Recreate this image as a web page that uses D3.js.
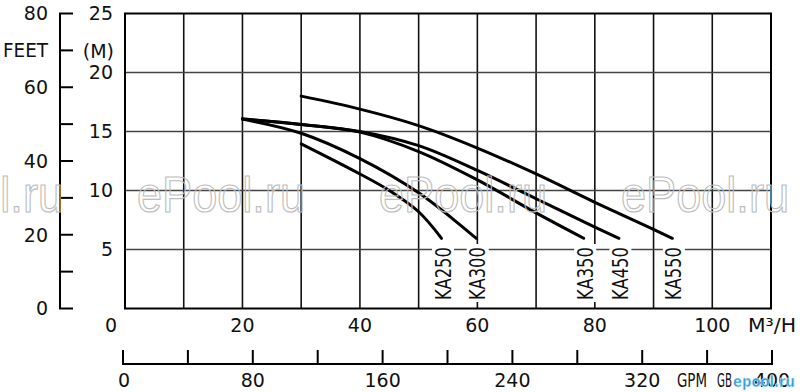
<!DOCTYPE html>
<html>
<head>
<meta charset="utf-8">
<script src="https://cdn.jsdelivr.net/npm/d3@7"></script>
<style>
    body { margin: 0; background: #fff; }
    text { font-family: "DejaVu Sans", sans-serif; fill: #111; }
</style>
</head>
<body>
<svg id="chart" width="800" height="392"></svg>
<script>
// pump curves, flow in m3/h vs head in m
const models = ['KA250', 'KA300', 'KA350', 'KA450', 'KA550']
const ka250Flow = [30, 40, 45, 50, 53.9]
const ka250Head = [13.95, 11.4, 10.0, 8.2, 5.95]
const ka300Flow = [20, 30, 40, 50, 59.8]
const ka300Head = [16.05, 14.85, 12.7, 9.8, 5.95]
const ka350Flow = [20, 30, 40, 50, 60, 70, 78.1]
const ka350Head = [16.05, 15.6, 14.95, 13.3, 10.9, 8.1, 5.95]
const ka450Flow = [20, 30, 40, 50, 60, 70, 80, 84.1]
const ka450Head = [16.05, 15.6, 15.0, 13.8, 11.7, 9.3, 6.9, 5.95]
const ka550Flow = [30, 40, 50, 60, 70, 80, 90, 93.2]
const ka550Head = [18.0, 16.9, 15.5, 13.6, 11.4, 9.0, 6.7, 5.95]

// axis ticks
const flowTicks = [0, 20, 40, 60, 80, 100]
const flowGrid = [10, 20, 30, 40, 50, 60, 70, 80, 90, 100]
const headTicks = [5, 10, 15, 20, 25]
const headGrid = [5, 10, 15, 20]
const feetTicks = [0, 10, 20, 30, 40, 50, 60, 70, 80]
const feetLabels = [0, 20, 40, 60, 80]
const gpmTicks = [0, 40, 80, 120, 160, 200, 240, 280, 320, 360, 400]
const gpmLabels = [0, 80, 160, 240, 320, 400]

const series = [
    { name: models[0], flow: ka250Flow, head: ka250Head },
    { name: models[1], flow: ka300Flow, head: ka300Head },
    { name: models[2], flow: ka350Flow, head: ka350Head },
    { name: models[3], flow: ka450Flow, head: ka450Head },
    { name: models[4], flow: ka550Flow, head: ka550Head },
]

const svg = d3.select('#chart')

const x = d3.scaleLinear().domain([0, 110]).range([125, 771])
const y = d3.scaleLinear().domain([0, 25]).range([308.5, 13.5])
const feet = d3.scaleLinear().domain([0, 80]).range([308.5, 13.5])
const gpm = d3.scaleLinear().domain([0, 400]).range([123, 772])

// grid
const grid = svg.append('g')
grid.selectAll('.vgrid')
    .data(flowGrid)
    .enter().append('line')
    .attr('x1', d => x(d)).attr('x2', d => x(d))
    .attr('y1', y(25)).attr('y2', y(0))
    .attr('stroke', '#111').attr('stroke-width', 1.6)

grid.selectAll('.hgrid')
    .data(headGrid)
    .enter().append('line')
    .attr('x1', x(0)).attr('x2', x(110))
    .attr('y1', d => y(d)).attr('y2', d => y(d))
    .attr('stroke', '#444').attr('stroke-width', 1.6)

// curves
const line = d3.line()
    .x(d => x(d[0]))
    .y(d => y(d[1]))
    .curve(d3.curveCatmullRom.alpha(0.5))

svg.append('g').selectAll('path')
    .data(series)
    .enter().append('path')
    .attr('d', s => line(s.flow.map((f, i) => [f, s.head[i]])))
    .attr('fill', 'none')
    .attr('stroke', '#000')
    .attr('stroke-width', 3)
    .attr('stroke-linecap', 'round')

// model labels under curve ends, white box cuts the grid
const labels = svg.append('g')
series.forEach(s => {
    let cx = x(s.flow[s.flow.length - 1]) + 1.5
    labels.append('rect')
        .attr('x', cx - 11).attr('y', 244)
        .attr('width', 22).attr('height', 58)
        .attr('fill', '#fff')
    labels.append('text')
        .attr('transform', 'translate(' + (cx + 7.5) + ',300) rotate(-90)')
        .attr('textLength', 53)
        .attr('lengthAdjust', 'spacingAndGlyphs')
        .style('font-size', '21px')
        .text(s.name)
})

// frame
svg.append('rect')
    .attr('x', x(0)).attr('y', y(25))
    .attr('width', x(110) - x(0)).attr('height', y(0) - y(25))
    .attr('fill', 'none').attr('stroke', '#000').attr('stroke-width', 2)

// head in metres
svg.append('g').selectAll('text')
    .data(headTicks)
    .enter().append('text')
    .attr('x', 113).attr('y', d => y(d))
    .attr('dy', '0.36em')
    .attr('text-anchor', 'end')
    .style('font-size', '19px')
    .text(d => d)
svg.append('text')
    .attr('x', 114).attr('y', 51).attr('dy', '0.36em')
    .attr('text-anchor', 'end')
    .style('font-size', '19px')
    .text('(M)')

// head in feet
const feetG = svg.append('g')
feetG.append('line')
    .attr('x1', 60).attr('x2', 60)
    .attr('y1', feet(80)).attr('y2', feet(0))
    .attr('stroke', '#000').attr('stroke-width', 2)
feetG.selectAll('.tick')
    .data(feetTicks)
    .enter().append('line')
    .attr('x1', 59).attr('x2', 73)
    .attr('y1', d => feet(d)).attr('y2', d => feet(d))
    .attr('stroke', '#000').attr('stroke-width', 2)
feetG.selectAll('text')
    .data(feetLabels)
    .enter().append('text')
    .attr('x', 48).attr('y', d => feet(d))
    .attr('dy', '0.36em')
    .attr('text-anchor', 'end')
    .style('font-size', '19px')
    .text(d => d)
feetG.append('text')
    .attr('x', 3).attr('y', feet(70)).attr('dy', '0.36em')
    .attr('textLength', 45)
    .attr('lengthAdjust', 'spacingAndGlyphs')
    .style('font-size', '19px')
    .text('FEET')

// flow in m3/h
svg.append('g').selectAll('text')
    .data(flowTicks)
    .enter().append('text')
    .attr('x', d => x(d) - (d === 0 ? 14 : 0))
    .attr('y', 332)
    .attr('text-anchor', 'middle')
    .style('font-size', '19px')
    .text(d => d)
svg.append('text')
    .attr('x', 748).attr('y', 332)
    .attr('textLength', 48)
    .attr('lengthAdjust', 'spacingAndGlyphs')
    .style('font-size', '19px')
    .text('M³/H')

// flow in gpm
const gpmG = svg.append('g')
gpmG.append('line')
    .attr('x1', gpm(0)).attr('x2', gpm(400))
    .attr('y1', 364).attr('y2', 364)
    .attr('stroke', '#000').attr('stroke-width', 2)
gpmG.selectAll('.tick')
    .data(gpmTicks)
    .enter().append('line')
    .attr('x1', d => gpm(d)).attr('x2', d => gpm(d))
    .attr('y1', 350).attr('y2', 365)
    .attr('stroke', '#000').attr('stroke-width', 2)
gpmG.selectAll('text')
    .data(gpmLabels)
    .enter().append('text')
    .attr('x', d => gpm(d) + (d === 0 ? 1 : 0))
    .attr('y', 387)
    .attr('text-anchor', 'middle')
    .style('font-size', '19px')
    .text(d => d)
gpmG.append('text')
    .attr('x', 677).attr('y', 387)
    .attr('textLength', 30)
    .attr('lengthAdjust', 'spacingAndGlyphs')
    .style('font-size', '19px')
    .text('GPM')
gpmG.append('text')
    .attr('x', 717).attr('y', 387)
    .attr('textLength', 15)
    .attr('lengthAdjust', 'spacingAndGlyphs')
    .style('font-size', '19px')
    .text('GB')

// watermarks
const marks = [-105, 137, 379, 621]
svg.append('g').selectAll('text')
    .data(marks)
    .enter().append('text')
    .attr('x', d => d).attr('y', 212)
    .attr('textLength', 168)
    .attr('lengthAdjust', 'spacingAndGlyphs')
    .style('font-size', '50px')
    .style('font-family', '"Liberation Sans", sans-serif')
    .style('fill', 'none')
    .style('stroke', '#bdbdbd')
    .style('stroke-width', 1.2)
    .text('ePool.ru')

svg.append('text')
    .attr('x', 733).attr('y', 387)
    .attr('textLength', 62)
    .attr('lengthAdjust', 'spacingAndGlyphs')
    .style('font-size', '16px')
    .style('font-weight', 'bold')
    .style('fill', '#2f9be0')
    .style('stroke', '#d8eefa')
    .style('stroke-width', 0.6)
    .text('epool.ru')
</script>
</body>
</html>
